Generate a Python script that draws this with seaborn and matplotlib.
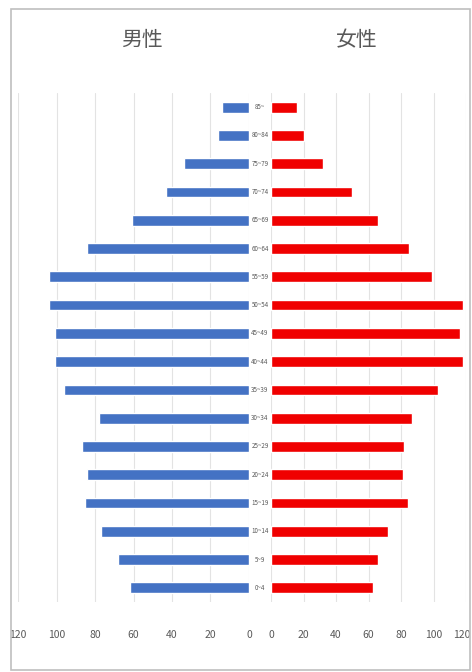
import matplotlib
matplotlib.use("Agg")
import matplotlib.pyplot as plt
import matplotlib.transforms as mtransforms
from matplotlib.patches import Rectangle
import pandas as pd
import seaborn as sns

# Age groups, oldest at the top
ages = ["85~", "80~84", "75~79", "70~74", "65~69", "60~64", "55~59", "50~54",
        "45~49", "40~44", "35~39", "30~34", "25~29", "20~24", "15~19",
        "10~14", "5~9", "0~4"]
male = [14, 16, 34, 43, 61, 84, 104, 104, 101, 101, 96, 78, 87, 84, 85, 77, 68, 62]
female = [16, 20, 32, 50, 66, 85, 99, 118, 116, 118, 103, 87, 82, 81, 84, 72, 66, 63]
x_ticks = [0, 20, 40, 60, 80, 100, 120]
titles = ["男性", "女性"]

BLUE = "#4472C4"
RED = "#F00000"
GRAY = "#595959"
GRID = "#E3E3E3"

sns.set_theme(style="white")
plt.rcParams["font.family"] = ["Noto Sans CJK JP", "DejaVu Sans"]

W, H = 472, 672
fig = plt.figure(figsize=(W / 100, H / 100), dpi=100)
fig.patch.set_facecolor("white")

def px(x0, y0, x1, y1):
    return [x0 / W, 1 - y1 / H, (x1 - x0) / W, (y1 - y0) / H]

axL = fig.add_axes(px(18, 93, 249, 602))
axR = fig.add_axes(px(271, 93, 466, 602))

df = pd.DataFrame({"age": ages, "male": male, "female": female})

sns.barplot(data=df, x="male", y="age", orient="h", color=BLUE,
            width=0.38, saturation=1, ax=axL)
sns.barplot(data=df, x="female", y="age", orient="h", color=RED,
            width=0.38, saturation=1, ax=axR)

for ax in (axL, axR):
    ax.set_xlim(0, 120)
    ax.set_xticks(x_ticks)
    ax.set_xticklabels([str(t) for t in x_ticks], color=GRAY, fontsize=7.5)
    ax.tick_params(axis="x", length=0, pad=20)
    ax.set_yticks([])
    ax.set_xlabel("")
    ax.set_ylabel("")
    for s in ax.spines.values():
        s.set_visible(False)
    ax.grid(axis="x", color=GRID, linewidth=0.8)
    ax.set_axisbelow(True)
    ax.set_facecolor("none")

axL.invert_xaxis()

# The outermost right-hand label is right-aligned so it stays inside the figure
labels_r = [str(t) for t in x_ticks]
last_label = labels_r[-1]
labels_r[-1] = ""
axR.set_xticklabels(labels_r, color=GRAY, fontsize=7.5)
edge = mtransforms.blended_transform_factory(axR.transData, fig.transFigure)
axR.text(x_ticks[-1], 1 - 630 / H, last_label, transform=edge,
         ha="center", va="top", fontsize=7.5, color=GRAY, clip_on=False)
fig.canvas.draw()
t = axR.texts[-1]
bb = t.get_window_extent()
if bb.x1 > W - 1:
    t.set_horizontalalignment("right")
    t.set_position((x_ticks[-1] + (W - 2 - axR.transData.transform((x_ticks[-1], 0))[0]) / axR.transData.get_matrix()[0, 0], 1 - 630 / H))

# Age labels in the gap between the two halves
trans = mtransforms.blended_transform_factory(fig.transFigure, axL.transData)
for i, a in enumerate(ages):
    fig.text(260 / W, i, a, transform=trans, ha="center", va="center",
             fontsize=4.5, color=GRAY)

fig.text(142 / W, 1 - 40 / H, titles[0], ha="center", va="center",
         fontsize=15, color=GRAY)
fig.text(357 / W, 1 - 40 / H, titles[1], ha="center", va="center",
         fontsize=15, color=GRAY)

# Outer chart frame
fig.add_artist(Rectangle((11 / W, 2 / H), (470 - 11) / W, (670 - 9) / H,
                         transform=fig.transFigure, fill=False,
                         edgecolor="#BFBFBF", linewidth=1.2))

fig.savefig("out.png", dpi=100, facecolor="white")
